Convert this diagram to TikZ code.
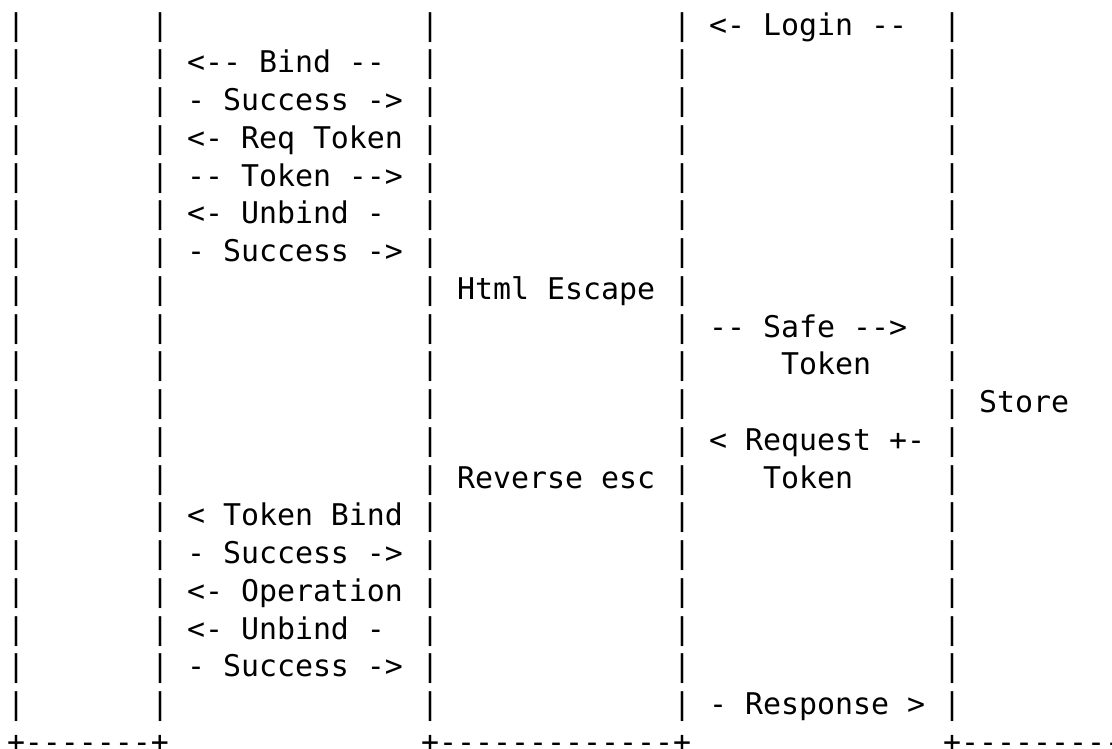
\documentclass[tikz,border=0pt]{standalone}
\usepackage{fontspec}
\setmonofont{DejaVu Sans Mono}
\newcommand\asciilab[4]{\node[txt] (#1) at ({7+18*#2},{35+37.75*#3}) {#4};}
\begin{document}
\begin{tikzpicture}[x=1pt,y=-1pt,
  txt/.style={font=\ttfamily\fontsize{29.9pt}{36pt}\selectfont, inner sep=0pt, outer sep=0pt, anchor=base west, text=black}]
\useasboundingbox (0,0) rectangle (1112,748);
% vertical bars of the five lanes
\foreach \r in {0,...,18}{
  \foreach \c in {0,8,23,37,52}{
    \node[txt] (p-\r-\c) at ({7+18*\c},{35+37.75*\r}) {|};
  }
}
% messages
\asciilab{login}{39}{0}{<- Login --}
\asciilab{bind1}{10}{1}{<-- Bind --}
\asciilab{succ1}{10}{2}{- Success ->}
\asciilab{reqtok}{10}{3}{<- Req Token}
\asciilab{tok}{10}{4}{-- Token -->}
\asciilab{unbind1}{10}{5}{<- Unbind -}
\asciilab{succ2}{10}{6}{- Success ->}
\asciilab{html}{25}{7}{Html Escape}
\asciilab{safe}{39}{8}{-- Safe -->}
\asciilab{safetok}{43}{9}{Token}
\asciilab{store}{54}{10}{Store}
\asciilab{request}{39}{11}{< Request +-}
\asciilab{rev}{25}{12}{Reverse esc}
\asciilab{reqtok2}{42}{12}{Token}
\asciilab{tokbind}{10}{13}{< Token Bind}
\asciilab{succ3}{10}{14}{- Success ->}
\asciilab{oper}{10}{15}{<- Operation}
\asciilab{unbind2}{10}{16}{<- Unbind -}
\asciilab{succ4}{10}{17}{- Success ->}
\asciilab{resp}{39}{18}{- Response >}
% bottom border
\asciilab{b1}{0}{19}{+-------+}
\asciilab{b2}{23}{19}{+-------------+}
\asciilab{b3}{52}{19}{+---------}
\end{tikzpicture}
\end{document}
